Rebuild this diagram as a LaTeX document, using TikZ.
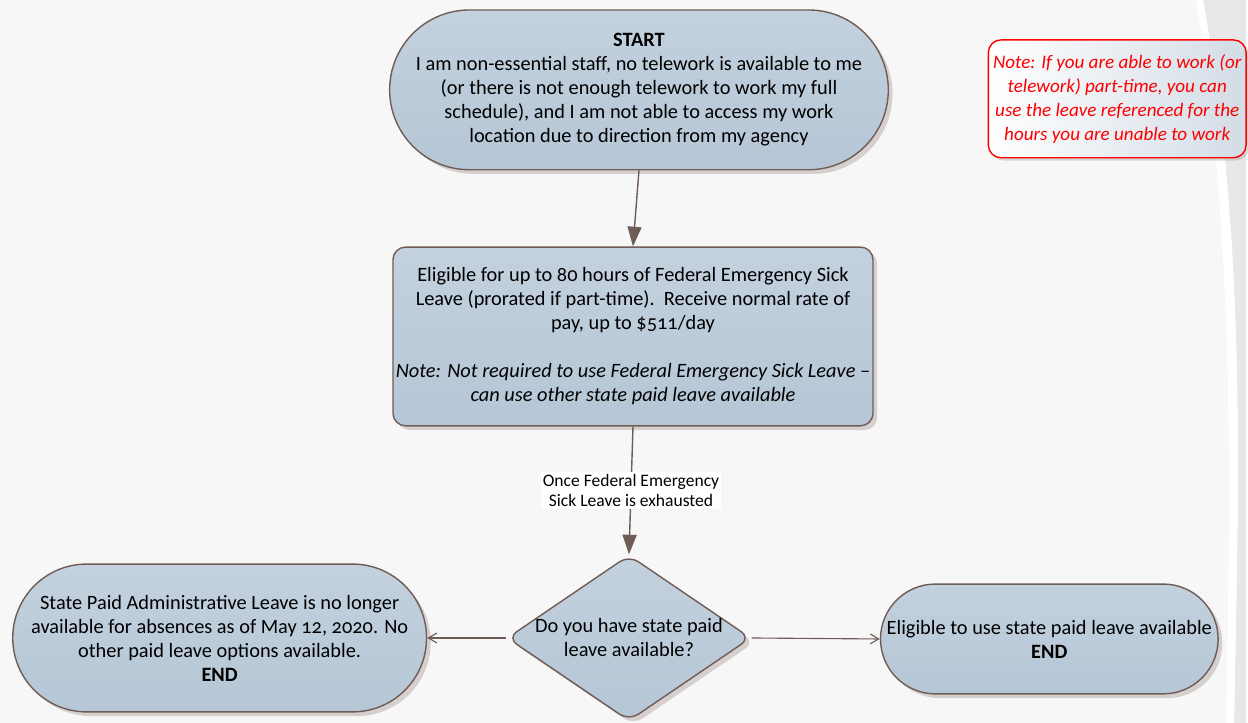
\documentclass[tikz,border=0pt]{standalone}
\usepackage{fontspec}
\setmainfont{Carlito}[Numbers=OldStyle]
\usetikzlibrary{arrows.meta,shapes.geometric,shapes.misc,shadows}

\definecolor{boxfill}{RGB}{181,198,214}
\definecolor{boxedge}{RGB}{112,92,86}
\definecolor{pagebg}{RGB}{247,247,247}

\tikzset{
	chartbox/.style={draw=boxedge, line width=1pt, top color=boxfill!80!white, bottom color=boxfill,
		drop shadow={shadow xshift=3pt, shadow yshift=-3pt, fill=boxedge!45, opacity=0.6},
		align=center, inner sep=2pt, font=\fontsize{14.5}{17.1}\selectfont},
	terminal/.style={chartbox, rounded rectangle, rounded rectangle arc length=180},
	process/.style={chartbox, rectangle, rounded corners=9pt},
	decision/.style={chartbox, diamond, aspect=1.47, rounded corners=8pt, inner sep=-5pt},
	notebox/.style={draw=red, line width=1pt, rounded corners=9pt, left color=white, right color=boxfill!60!white,
		drop shadow={shadow xshift=2pt, shadow yshift=-2pt, fill=gray!60, opacity=0.5},
		text=red, align=center, font=\fontsize{13.6}{17.1}\selectfont\itshape},
	flow/.style={draw=boxedge, line width=1pt, -{Triangle[length=14pt,width=10pt]}},
	sideflow/.style={draw=boxedge, line width=0.8pt, -{Straight Barb[length=6pt,width=7pt]}},
	flowlabel/.style={fill=white, inner sep=1.5pt, align=center, font=\fontsize{12.5}{14.9}\selectfont}
}

\begin{document}
\begin{tikzpicture}[x=0.025cm, y=-0.025cm]
	% page and slide decoration
	\fill[pagebg] (0,0) rectangle (1248,724);
	\fill[gray!18] (1205,0) .. controls (1250,250) and (1240,500) .. (1236,724) -- (1248,724) -- (1248,0) -- cycle;
	\fill[white] (1198,0) .. controls (1238,250) and (1232,500) .. (1228,724) -- (1236,724) .. controls (1240,500) and (1250,250) .. (1205,0) -- cycle;
	\useasboundingbox (0,0) rectangle (1248,724);

	% nodes
	\node[terminal, minimum width=11.625cm, minimum height=4cm] (start) at (640,90)
		{\textbf{START}\\I am non-essential staff, no telework is available to me\\(or there is not enough telework to work my full\\schedule), and I am not able to access my work\\location due to direction from my agency};
	\node[process, minimum width=11.925cm, minimum height=4.475cm] (eligible) at (634,337)
		{Eligible for up to 80 hours of Federal Emergency Sick\\Leave (prorated if part-time).\ \ Receive normal rate of\\pay, up to \$511/day\\[17pt]
		\textit{Note: Not required to use Federal Emergency Sick Leave --}\\\textit{can use other state paid leave available}};
	\node[decision, minimum width=6.1cm, minimum height=4.15cm] (decide) at (630,639)
		{Do you have state paid\\leave available?};
	\node[terminal, minimum width=10.5cm, minimum height=3.7cm] (noleave) at (220,639)
		{State Paid Administrative Leave is no longer\\available for absences as of May 12, 2020. No\\other paid leave options available.\\\textbf{END}};
	\node[terminal, minimum width=8.45cm, minimum height=2.75cm] (useleave) at (1051,640)
		{Eligible to use state paid leave available\\\textbf{END}};
	\node[notebox, minimum width=6.4cm, minimum height=2.95cm] (note) at (1119,99)
		{Note: If you are able to work (or\\telework) part-time, you can\\use the leave referenced for the\\hours you are unable to work};

	% connectors
	\draw[flow] (start.south) -- (eligible.north);
	\draw[flow] (eligible.south) -- node[flowlabel] (exhausted) {Once Federal Emergency\\Sick Leave is exhausted} (decide.north);
	\draw[sideflow] (decide.west) -- (noleave.east);
	\draw[sideflow] (decide.east) -- (useleave.west);
\end{tikzpicture}
\end{document}
